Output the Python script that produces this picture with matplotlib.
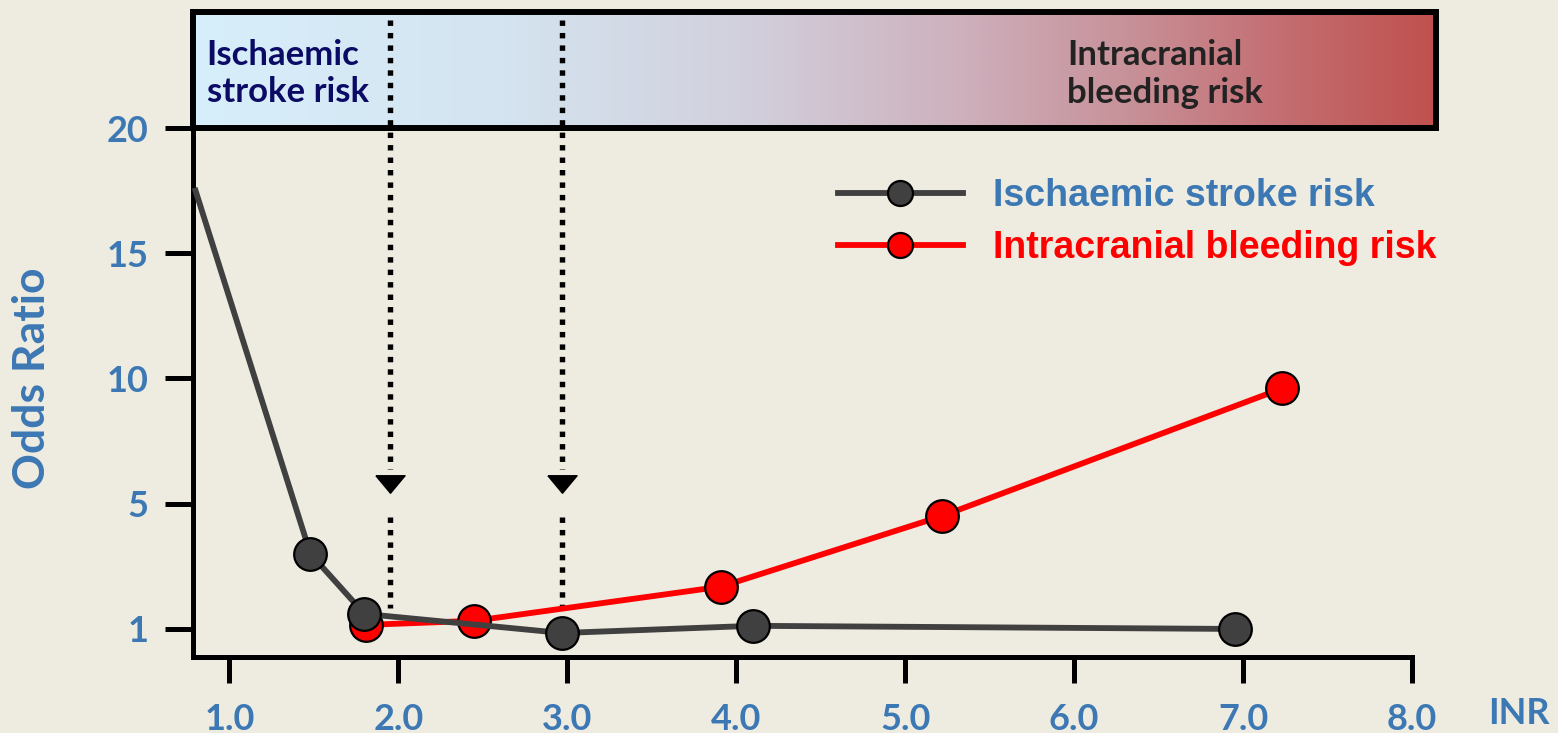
import numpy as np
import matplotlib
matplotlib.use("Agg")
import matplotlib.pyplot as plt
from matplotlib.colors import LinearSegmentedColormap
from matplotlib.lines import Line2D
from matplotlib.path import Path

# INR vs odds ratio, read point by point
stroke_inr = [0.80, 1.48, 1.80, 2.97, 4.10, 6.95]
stroke_or = [17.5, 3.4, 1.48, 0.87, 1.10, 1.0]
bleed_inr = [1.81, 2.45, 3.91, 5.22, 7.23]
bleed_or = [1.13, 1.26, 2.35, 4.61, 9.6]

x_ticks = [1, 2, 3, 4, 5, 6, 7, 8]
x_ticklabels = ["1.0", "2.0", "3.0", "4.0", "5.0", "6.0", "7.0", "8.0"]
y_ticks = [1, 5, 10, 15, 20]
y_ticklabels = ["1", "5", "10", "15", "20"]
target_range = [1.95, 2.97]

BG = "#EEEBE0"
BLUE = "#3C78B4"
GREY = "#404040"
RED = "#FF0000"


# the stretch below 5 puts "1" right on the baseline
def fwd(y):
    y = np.asarray(y, dtype=float)
    return np.where(y >= 5, y, 5 - (5 - y) * 1.25)


def inv(p):
    p = np.asarray(p, dtype=float)
    return np.where(p >= 5, p, 5 - (5 - p) * 0.8)


W, H = 1558, 733
fig = plt.figure(figsize=(W / 100, H / 100), dpi=100, facecolor=BG)

ax = fig.add_axes([193 / W, 76 / H, 1219 / W, 529 / H], zorder=2)
ax.set_facecolor("none")
ax.set_yscale("function", functions=(fwd, inv))
ax.set_xlim(0.785, 8.0)
ax.set_ylim(inv(-1.12), 20)

for s in ["top", "right"]:
    ax.spines[s].set_visible(False)
for s in ["left", "bottom"]:
    ax.spines[s].set_linewidth(3.6)

ax.set_xticks(x_ticks, x_ticklabels)
ax.set_yticks(y_ticks, y_ticklabels)
ax.minorticks_off()
ax.tick_params(axis="x", length=19, width=3.6, pad=14, labelsize=26,
               labelcolor=BLUE)
ax.tick_params(axis="y", length=20, width=3.6, pad=12, labelsize=26,
               labelcolor=BLUE)
for lab in ax.get_xticklabels() + ax.get_yticklabels():
    lab.set_fontfamily("Lato")
    lab.set_fontweight("bold")

# dotted guide arrows for the 2-3 target range
tr = ax.get_xaxis_transform()
tri = Path([(-1, 0.6), (1, 0.6), (0, -0.6), (-1, 0.6)])
for xv in target_range:
    for y0, y1 in [(1.205, 0.355), (0.265, 0.093)]:
        ax.plot([xv, xv], [y0, y1], transform=tr, color="black", lw=3.9,
                ls=(0, (1, 1.3)), dash_capstyle="butt", clip_on=False,
                zorder=1)
    ax.plot([xv], [0.327], transform=tr, marker=tri, ms=21, color="black",
            ls="none", clip_on=False, zorder=1)

# bleeding series first so the stroke series sits on top
ax.plot(bleed_inr, bleed_or, color=RED, lw=4.2, zorder=3, clip_on=False)
ax.plot(bleed_inr, bleed_or, ls="none", marker="o", ms=23.5, mfc=RED,
        mec="black", mew=1.6, zorder=4, clip_on=False)
ax.plot(stroke_inr, stroke_or, color=GREY, lw=4.2, zorder=5, clip_on=False)
ax.plot(stroke_inr[1:], stroke_or[1:], ls="none", marker="o", ms=23.5,
        mfc=GREY, mec="black", mew=1.6, zorder=6, clip_on=False)

handles = [
    Line2D([], [], color=GREY, lw=4.2, marker="o", ms=18, mfc=GREY,
           mec="black", mew=1.6),
    Line2D([], [], color=RED, lw=4.2, marker="o", ms=18, mfc=RED,
           mec="black", mew=1.6),
]
leg = ax.legend(handles, ["Ischaemic stroke risk", "Intracranial bleeding risk"],
                loc="center left", bbox_to_anchor=(838 / W, (H - 222) / H),
                bbox_transform=fig.transFigure, frameon=False, numpoints=1,
                handlelength=3.33, handletextpad=0.8, labelspacing=0.42,
                borderpad=0, borderaxespad=0,
                prop={"family": "Liberation Sans", "weight": "bold", "size": 27})
for txt, c in zip(leg.get_texts(), [BLUE, RED]):
    txt.set_color(c)

# gradient risk banner above the plot
bax = fig.add_axes([193 / W, (H - 128) / H, 1243 / W, 116 / H], zorder=1)
cmap = LinearSegmentedColormap.from_list(
    "risk", [(0.0, "#D7EFFB"), (0.25, "#D4E4F0"), (0.45, "#D2CFDC"),
             (0.62, "#CDB0BC"), (0.75, "#C8929A"), (0.88, "#C36D71"),
             (1.0, "#C0514E")])
bax.imshow(np.linspace(0, 1, 512)[None, :], cmap=cmap, aspect="auto",
           extent=(0, 1, 0, 1))
bax.set_xticks([])
bax.set_yticks([])
for s in bax.spines.values():
    s.set_linewidth(4.3)
bax.text(0.011, 0.47, "Ischaemic\nstroke risk", transform=bax.transAxes,
         ha="left", va="center", fontsize=25, fontfamily="Lato",
         fontweight="bold", color="#0B0B66", linespacing=1.22)
bax.text(0.703, 0.465, "Intracranial\nbleeding risk", transform=bax.transAxes,
         ha="left", va="center", fontsize=25, fontfamily="Lato",
         fontweight="bold", color="#222222", linespacing=1.22)

fig.text(32 / W, (H - 378) / H, "Odds Ratio", rotation=90, ha="center",
         va="center", fontsize=32, fontfamily="Lato", fontweight="bold",
         color=BLUE)
fig.text(1519 / W, (H - 714) / H, "INR", ha="center", va="center",
         fontsize=26, fontfamily="Lato", fontweight="bold", color=BLUE)

fig.savefig("out.png", dpi=100, facecolor=BG)
